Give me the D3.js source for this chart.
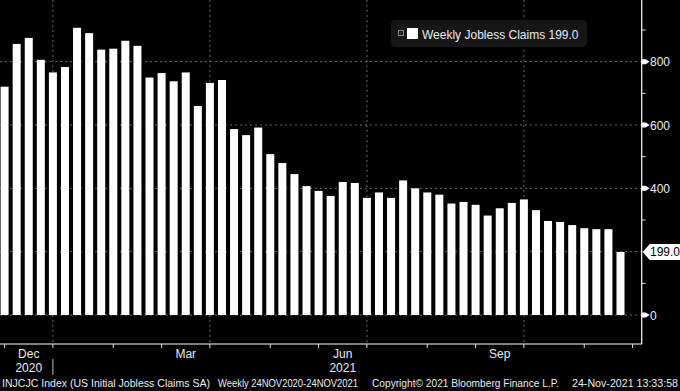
<!DOCTYPE html>
<html><head><meta charset="utf-8">
<script src="https://cdn.jsdelivr.net/npm/d3@7"></script>
<style>html,body{margin:0;padding:0;background:#000;}svg{display:block;}</style>
</head><body>
<svg id="c" width="680" height="391"></svg>
<script>
// Weekly initial jobless claims (thousands), 52 weeks, Nov 2020 - Nov 2021
const claims = [721, 856, 875, 806, 766, 783, 907, 890, 838, 841, 866, 850, 750, 764, 738, 766,
  660, 733, 742, 587, 568, 592, 508, 480, 445, 407, 392, 376, 420, 417, 370, 387, 370, 425, 400, 387,
  380, 352, 357, 348, 314, 337, 354, 365, 331, 297, 294, 284, 274, 271, 271, 199];
// week index of month starts (Dec 2020 .. Dec 2021)
const monthTickIdx = [0, 4, 9, 13, 17, 22, 26, 30, 35, 39, 43, 48, 52];
const quarterGridIdx = [4, 17, 30, 43];
const quarterLabels = ["Dec", "Mar", "Jun", "Sep"];
const quarterLabelIdx = [2, 15, 28, 41];
const yearLabels = ["2020", "2021"];
const yearLabelIdx = [2, 28];
const yearSepIdx = [4];
const yMajor = [0, 200, 400, 600, 800];
const yLabelVals = [0, 400, 600, 800];
const yMinor = [100, 300, 500, 700, 900];
const lastValue = 199.0;
const seriesName = "Weekly Jobless Claims";
const footer = ["INJCJC Index (US Initial Jobless Claims SA)", "Weekly 24NOV2020-24NOV2021",
  "Copyright\u00A9 2021 Bloomberg Finance L.P.", "24-Nov-2021 13:33:58"];

const svg = d3.select("#c");
const W = 680, H = 391;
svg.append("rect").attr("width", W).attr("height", H).attr("fill", "#000");

const axisX = 641.7, axisY = 344;
const x = d3.scaleLinear().domain([0, 51]).range([4.6, 620.5]);
const y = d3.scaleLinear().domain([0, 800]).range([315, 61.67]);
const font = "'Liberation Sans', Arial, sans-serif";
const txt = "#e6ecf5";
const grid = "#6a6a6a";

// gridlines
svg.append("g").selectAll("line").data(yMajor).join("line")
  .attr("x1", 0).attr("x2", axisX).attr("y1", d => y(d)).attr("y2", d => y(d))
  .attr("stroke", grid).attr("stroke-width", 1).attr("stroke-dasharray", "2,3");
svg.append("g").selectAll("line").data(quarterGridIdx).join("line")
  .attr("x1", d => x(d)).attr("x2", d => x(d)).attr("y1", 0).attr("y2", axisY)
  .attr("stroke", grid).attr("stroke-width", 1).attr("stroke-dasharray", "2,3");

// bars
const bw = 8;
svg.append("g").selectAll("rect").data(claims).join("rect")
  .attr("x", (d, i) => x(i) - bw / 2).attr("width", bw)
  .attr("y", d => y(d)).attr("height", d => y(0) - y(d))
  .attr("fill", "#fff");

// axes lines
svg.append("line").attr("x1", 0).attr("x2", axisX + 0.5).attr("y1", axisY).attr("y2", axisY)
  .attr("stroke", "#fff").attr("stroke-width", 1.2);
svg.append("line").attr("x1", axisX).attr("x2", axisX).attr("y1", 0).attr("y2", axisY)
  .attr("stroke", "#fff").attr("stroke-width", 1.2);

// x ticks
svg.append("g").selectAll("line").data(monthTickIdx).join("line")
  .attr("x1", d => x(d)).attr("x2", d => x(d)).attr("y1", axisY).attr("y2", axisY + 4)
  .attr("stroke", "#ddd").attr("stroke-width", 1);
svg.append("g").selectAll("text").data(quarterLabels).join("text")
  .attr("x", (d, i) => x(quarterLabelIdx[i])).attr("y", 358)
  .attr("text-anchor", "middle").attr("fill", txt)
  .attr("font-family", font).attr("font-size", 12).text(d => d);
svg.append("g").selectAll("text").data(yearLabels).join("text")
  .attr("x", (d, i) => x(yearLabelIdx[i])).attr("y", 372)
  .attr("text-anchor", "middle").attr("fill", txt)
  .attr("font-family", font).attr("font-size", 12).text(d => d);
svg.append("g").selectAll("line").data(yearSepIdx).join("line")
  .attr("x1", d => x(d)).attr("x2", d => x(d)).attr("y1", 359).attr("y2", 375)
  .attr("stroke", "#bbb").attr("stroke-width", 1);

// y ticks
svg.append("g").selectAll("line").data(yMinor).join("line")
  .attr("x1", axisX).attr("x2", axisX + 4).attr("y1", d => y(d)).attr("y2", d => y(d))
  .attr("stroke", "#ddd").attr("stroke-width", 1);
svg.append("g").selectAll("path").data(yLabelVals).join("path")
  .attr("d", d => `M${axisX},${y(d) - 2.5}L${axisX + 4},${y(d) - 2.5}L${axisX + 8},${y(d)}L${axisX + 4},${y(d) + 2.5}L${axisX},${y(d) + 2.5}Z`)
  .attr("fill", "#fff");
svg.append("g").selectAll("text").data(yLabelVals).join("text")
  .attr("x", 650).attr("y", d => y(d) + 4.5).attr("fill", txt)
  .attr("font-family", font).attr("font-size", 12).text(d => d);

// last value tag
const ly = y(lastValue);
svg.append("path")
  .attr("d", `M${axisX + 1},${ly}L${axisX + 8},${ly - 8}L${W},${ly - 8}L${W},${ly + 8}L${axisX + 8},${ly + 8}Z`)
  .attr("fill", "#fff");
svg.append("text").attr("x", 650).attr("y", ly + 4.5).attr("fill", "#000")
  .attr("font-family", font).attr("font-size", 12).text(lastValue.toFixed(1));

// legend
const lg = svg.append("g");
lg.append("rect").attr("x", 391).attr("y", 20).attr("width", 196).attr("height", 27).attr("rx", 4)
  .attr("fill", "#161616");
lg.append("rect").attr("x", 398.5).attr("y", 30.5).attr("width", 5).attr("height", 5)
  .attr("fill", "none").attr("stroke", "#888").attr("stroke-width", 1);
lg.append("rect").attr("x", 400.5).attr("y", 32.5).attr("width", 1).attr("height", 1).attr("fill", "#888");
lg.append("rect").attr("x", 407).attr("y", 28).attr("width", 11).attr("height", 11).attr("fill", "#fff");
lg.append("text").attr("x", 422).attr("y", 38.5).attr("fill", txt)
  .attr("font-family", font).attr("font-size", 12)
  .text(seriesName + " " + lastValue.toFixed(1));

// footer
const fx = [2, 218, 372, 572];
const fw = [208, 140, 187, 106];
svg.append("g").selectAll("text").data(footer).join("text")
  .attr("x", (d, i) => fx[i]).attr("y", 387).attr("fill", txt)
  .attr("font-family", font).attr("font-size", 11)
  .attr("textLength", (d, i) => fw[i]).attr("lengthAdjust", "spacingAndGlyphs")
  .text(d => d);
</script>
</body></html>
